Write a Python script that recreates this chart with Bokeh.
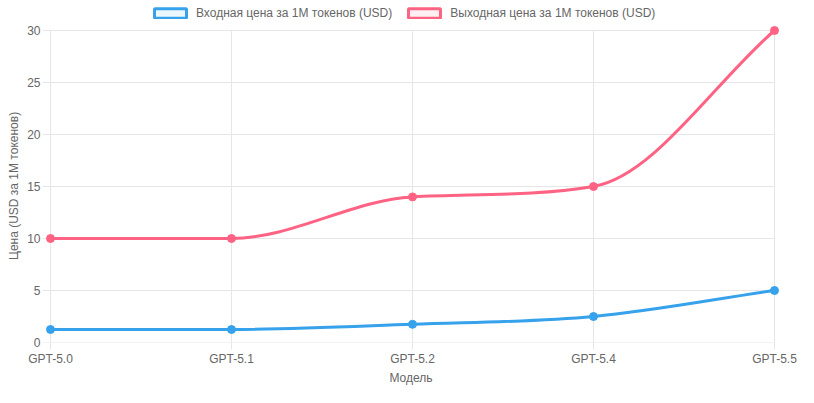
import numpy as np
from bokeh.plotting import figure
from bokeh.models import Range1d, FixedTicker, Legend, LegendItem, ColumnDataSource, Title
from bokeh.embed import file_html
from bokeh.resources import INLINE

# ---- data ----
models = ["GPT-5.0", "GPT-5.1", "GPT-5.2", "GPT-5.4", "GPT-5.5"]
input_price = [1.25, 1.25, 1.75, 2.5, 5.0]
output_price = [10, 10, 14, 15, 30]
y_ticks = [0, 5, 10, 15, 20, 25, 30]
series_names = ["Входная цена за 1M токенов (USD)", "Выходная цена за 1M токенов (USD)"]
x_title = "Модель"
y_title = "Цена (USD за 1M токенов)"

BLUE = "#36a2eb"
PINK = "#ff6384"
FONT = "Liberation Sans"
TXT = "#666666"
GRID = "#e6e6e6"

W, H = 798, 387
BL, BR, BT, BB = 42, 19, 0, 45
PADL, PADR, PADT = 8, 5, 30   # px between frame edge and data area
FW, FH = W - BL - BR, H - BT - BB
YMAX = 30.0
n = len(models)
sx = (FW - PADL - PADR) / (n - 1)
sy = (FH - PADT) / YMAX
X0, X1 = -PADL / sx, (n - 1) + PADR / sx

p = figure(width=W, height=H, output_backend="svg", toolbar_location=None,
           x_range=Range1d(X0, X1), y_range=Range1d(0, YMAX + PADT / sy),
           min_border_left=BL, min_border_right=BR, min_border_top=BT, min_border_bottom=BB)
p.outline_line_color = None
p.background_fill_color = "white"
p.xgrid.visible = False
p.ygrid.visible = False

xs = list(range(n))
p.xaxis.ticker = FixedTicker(ticks=xs)
p.xaxis.major_label_overrides = {i: m for i, m in enumerate(models)}
p.yaxis.ticker = FixedTicker(ticks=y_ticks)

for ax in (p.xaxis[0], p.yaxis[0]):
    ax.axis_line_color = None
    ax.major_tick_line_color = GRID
    ax.major_tick_in = 0
    ax.minor_tick_line_color = None
    ax.major_label_text_font = FONT
    ax.major_label_text_font_size = "12px"
    ax.major_label_text_color = TXT
    ax.axis_label_text_font = FONT
    ax.axis_label_text_font_size = "12px"
    ax.axis_label_text_color = TXT
    ax.axis_label_text_font_style = "normal"
p.xaxis.axis_label = x_title
p.xaxis.major_tick_out = 7
p.yaxis.major_tick_out = 0
p.yaxis.major_tick_line_color = None
p.xaxis.major_label_standoff = 2
p.xaxis.axis_label_standoff = 2
p.yaxis.major_label_standoff = 2

# y axis title, centred on the data area (not on the whole frame)
data_mid_from_bottom = (FH - PADT) / 2
text_len = 147
ytitle = Title(text=y_title, align="left", offset=data_mid_from_bottom - text_len / 2,
               text_font=FONT, text_font_size="12px", text_font_style="normal",
               text_color=TXT, standoff=8)
p.add_layout(ytitle, "left")

# grid lines limited to the data area (horizontal ones reach out to the left like ticks)
p.segment(x0=X0, x1=n - 1, y0=y_ticks, y1=y_ticks, line_color=GRID, line_width=1)
p.segment(x0=xs, x1=xs, y0=0, y1=YMAX, line_color=GRID, line_width=1)


# ---- smooth curve: monotone cubic interpolation (as Chart.js 'monotone') ----
def monotone_segments(vals):
    x = np.arange(len(vals), dtype=float)
    y = np.array(vals, dtype=float)
    k = len(y)
    d = np.diff(y) / np.diff(x)
    m = np.zeros(k)
    m[0], m[-1] = d[0], d[-1]
    for i in range(1, k - 1):
        m[i] = 0.0 if np.sign(d[i - 1]) != np.sign(d[i]) else (d[i - 1] + d[i]) / 2
    for i in range(k - 1):
        if abs(d[i]) < 1e-12:
            m[i] = m[i + 1] = 0.0
            continue
        a, b = m[i] / d[i], m[i + 1] / d[i]
        s = a * a + b * b
        if s <= 9:
            continue
        t = 3 / np.sqrt(s)
        m[i], m[i + 1] = a * t * d[i], b * t * d[i]
    seg = dict(x0=[], y0=[], x1=[], y1=[], cx0=[], cy0=[], cx1=[], cy1=[])
    for i in range(k - 1):
        dx = (x[i + 1] - x[i]) / 3
        seg["x0"].append(x[i]); seg["y0"].append(y[i])
        seg["x1"].append(x[i + 1]); seg["y1"].append(y[i + 1])
        seg["cx0"].append(x[i] + dx); seg["cy0"].append(min(max(y[i] + dx * m[i], 0), YMAX))
        seg["cx1"].append(x[i + 1] - dx); seg["cy1"].append(min(max(y[i + 1] - dx * m[i + 1], 0), YMAX))
    return ColumnDataSource(seg)


items = []
for vals, col, name in ((input_price, BLUE, series_names[0]), (output_price, PINK, series_names[1])):
    p.bezier(x0="x0", y0="y0", x1="x1", y1="y1", cx0="cx0", cy0="cy0", cx1="cx1", cy1="cy1",
             source=monotone_segments(vals), line_color=col, line_width=3, line_cap="round")
    p.scatter(xs, vals, size=8, fill_color=col, line_color=col, line_width=1)
    # legend swatch only (no visible data)
    box = p.quad(left=[np.nan], right=[np.nan], top=[np.nan], bottom=[np.nan],
                 fill_color=col, fill_alpha=0.1, line_color=col, line_width=3)
    items.append(LegendItem(label=name, renderers=[box]))

# legend inside the top (empty) strip of the frame
legend = Legend(items=items, orientation="horizontal", location=(150 - BL, FH - 20),
                glyph_width=40, glyph_height=12, label_standoff=6, spacing=12,
                label_text_font=FONT, label_text_font_size="12px", label_text_color=TXT,
                label_height=12, padding=0, margin=0, border_line_color=None,
                background_fill_alpha=0)
p.add_layout(legend, "center")

open("out.html", "w").write(file_html(p, INLINE))
